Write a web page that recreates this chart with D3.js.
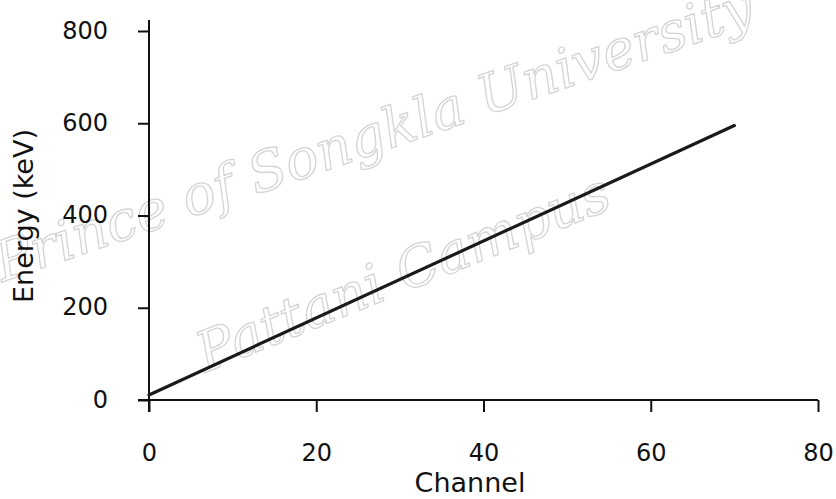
<!DOCTYPE html>
<html lang="en">
  <head>
    <meta charset="utf-8">
    <title>Energy calibration</title>
    <script src="https://d3js.org/d3.v7.min.js"></script>
    <style>
      body{ margin: 0; background: #fff; }
      .axis text{ font: 24px "DejaVu Sans", sans-serif; fill: #111; }
      .axis path, .axis line{ stroke: #111; stroke-width: 2; }
      .title{ font: 27px "DejaVu Sans", sans-serif; fill: #111; }
    </style>
  </head>
  <body>
    <div id="chart"></div>
    <script>
      // data
      var channel = [0, 70];
      var energy = [11, 595];
      var xTicks = [0, 20, 40, 60, 80];
      var yTicks = [0, 200, 400, 600, 800];
      var watermark = ["Prince of Songkla University", "Pattani Campus"];

      var w = 836, h = 499;
      var margin = {top: 31, right: 18, bottom: 99, left: 149};

      var svg = d3.select("#chart").append("svg")
                  .attr("width", w).attr("height", h);

      var xScale = d3.scaleLinear().domain([0, 80]).range([margin.left, w - margin.right]);
      var yScale = d3.scaleLinear().domain([0, 800]).range([h - margin.bottom, margin.top]);

      // faint watermark
      var wm = svg.append("g").attr("class", "wm");
      wm.append("text")
        .attr("transform", "translate(380,152) rotate(-19)")
        .text(watermark[0]);
      wm.append("text")
        .attr("transform", "translate(410,290) rotate(-22)")
        .text(watermark[1]);
      wm.selectAll("text")
        .attr("text-anchor", "middle")
        .attr("font-family", "'DejaVu Serif', serif")
        .attr("font-style", "italic")
        .attr("font-size", 55)
        .attr("fill", "#fff")
        .attr("stroke", "#d4d4d4")
        .attr("stroke-width", 1.3);

      var xAxis = d3.axisBottom(xScale).tickValues(xTicks).tickSize(12).tickSizeOuter(0);
      var yAxis = d3.axisLeft(yScale).tickValues(yTicks).tickSize(11).tickPadding(30).tickSizeOuter(0);

      var gx = svg.append("g").attr("class", "axis")
         .attr("transform", `translate(0, ${yScale(0)})`)
         .call(xAxis);
      gx.select(".domain").attr("d", `M${xScale(0) - 11},0H${xScale(80)}`);
      gx.selectAll(".tick text").attr("y", 61).attr("dy", 0);

      var gy = svg.append("g").attr("class", "axis")
         .attr("transform", `translate(${xScale(0)}, 0)`)
         .call(yAxis);
      gy.select(".domain").attr("d", `M0,${yScale(800) - 11}V${yScale(0) + 12}`);
      gy.selectAll(".tick text").attr("dy", "0.3em");

      svg.append("text").attr("class", "title")
         .attr("x", 470)
         .attr("y", 492)
         .attr("text-anchor", "middle")
         .text("Channel");

      svg.append("text").attr("class", "title")
         .attr("transform", "translate(33, 216) rotate(-90)")
         .attr("text-anchor", "middle")
         .text("Energy (keV)");

      var line = d3.line().x(d => xScale(d[0])).y(d => yScale(d[1]));
      svg.append("path")
         .datum(channel.map((c, i) => [c, energy[i]]))
         .attr("d", line)
         .attr("fill", "none")
         .attr("stroke", "#1a1a1a")
         .attr("stroke-width", 3.2)
         .attr("stroke-linecap", "round");
    </script>
  </body>
</html>
